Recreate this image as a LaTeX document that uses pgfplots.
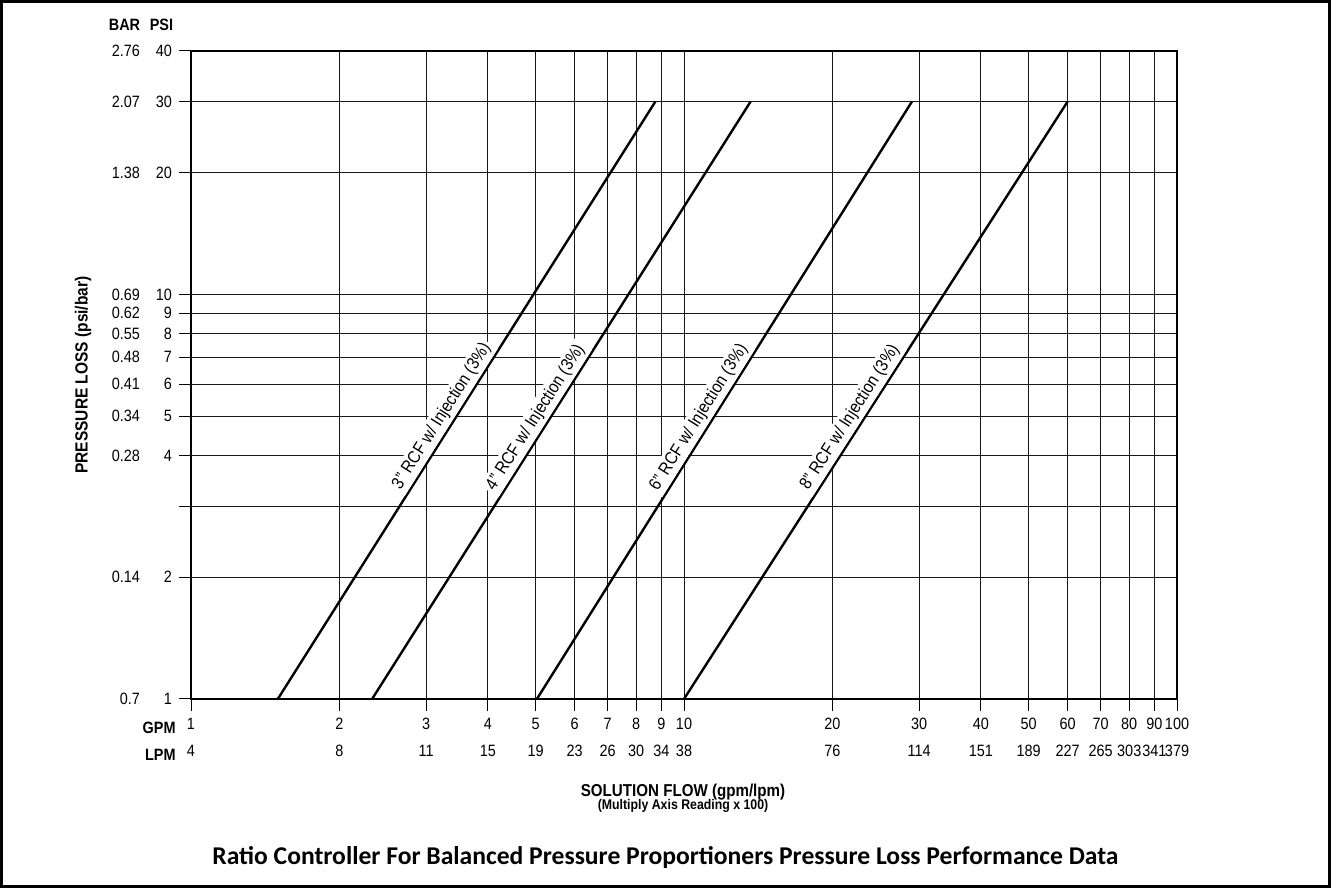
\documentclass[border=0pt]{standalone}
\usepackage{fontspec}
\setmainfont{Liberation Sans}[FakeStretch=0.88]
\newfontfamily\titlefont{Carlito}
\usepackage{pgfplots}
\pgfplotsset{compat=1.18}
\newcommand\yl[2]{\makebox[20pt][r]{#1}\makebox[16pt][r]{#2}}
\begin{document}
\begin{tikzpicture}
\useasboundingbox (0,0) rectangle (665.5pt,444pt);
\draw[line width=1.5pt] (0.75pt,0.75pt) rectangle (664.75pt,443.25pt);
\begin{axis}[
  at={(95.5pt,94.5pt)}, anchor=south west,
  scale only axis, width=493pt, height=324pt,
  xmode=log, ymode=log, xmin=1, xmax=100, ymin=1, ymax=40,
  xtick={1,2,3,4,5,6,7,8,9,10,20,30,40,50,60,70,80,90,100},
  xticklabels={{1\\4},{2\\8},{3\\11},{4\\15},{5\\19},{6\\23},{7\\26},{8\\30},{9\\34},{10\\38},{20\\76},{30\\114},{40\\151},{50\\189},{60\\227},{70\\265},{80\\303},{90\\341},{100\\379}},
  ytick={1,2,3,4,5,6,7,8,9,10,20,30,40},
  yticklabels={\yl{0.7}{1},\yl{0.14}{2},{},\yl{0.28}{4},\yl{0.34}{5},\yl{0.41}{6},\yl{0.48}{7},\yl{0.55}{8},\yl{0.62}{9},\yl{0.69}{10},\yl{1.38}{20},\yl{2.07}{30},\yl{2.76}{40}},
  grid=major, grid style={black!90, line width=0.5pt},
  axis line style={black, line width=0.9pt},
  tick align=outside, xtick pos=bottom, ytick pos=left,
  major tick length=6pt, minor tick length=0pt,
  tick style={black, line width=0.5pt},
  xticklabel style={align=center, font=\fontsize{8.2}{13.5}\selectfont},
  yticklabel style={font=\fontsize{8.2}{10}\selectfont},
  clip=false,
]
\addplot[black, line width=1.2pt] coordinates {(1.5,1) (8.75,30)}
  node[pos=0.46, sloped, above, fill=white, inner sep=1.5pt, font=\fontsize{8.8}{10}\selectfont] {3" RCF w/ Injection (3\%)};
\addplot[black, line width=1.2pt] coordinates {(2.33,1) (13.65,30)}
  node[pos=0.46, sloped, above, fill=white, inner sep=1.5pt, font=\fontsize{8.8}{10}\selectfont] {4" RCF w/ Injection (3\%)};
\addplot[black, line width=1.2pt] coordinates {(5.03,1) (29,30)}
  node[pos=0.46, sloped, above, fill=white, inner sep=1.5pt, font=\fontsize{8.8}{10}\selectfont] {6" RCF w/ Injection (3\%)};
\addplot[black, line width=1.2pt] coordinates {(10,1) (60,30)}
  node[pos=0.46, sloped, above, fill=white, inner sep=1.5pt, font=\fontsize{8.8}{10}\selectfont] {8" RCF w/ Injection (3\%)};
\end{axis}
\node[font=\bfseries\fontsize{8.2}{10}\selectfont] at (62.25pt,431.5pt) {BAR};
\node[font=\bfseries\fontsize{8.2}{10}\selectfont] at (80.75pt,431.5pt) {PSI};
\node[font=\bfseries\fontsize{8.8}{10}\selectfont, rotate=90] at (41.5pt,256.5pt) {PRESSURE LOSS (psi/bar)};
\node[font=\bfseries\fontsize{8.2}{10}\selectfont, anchor=east, inner sep=0pt] at (88pt,80pt) {GPM};
\node[font=\bfseries\fontsize{8.2}{10}\selectfont, anchor=east, inner sep=0pt] at (88pt,66.5pt) {LPM};
\node[font=\bfseries\fontsize{8.6}{10}\selectfont] at (341.5pt,48pt) {SOLUTION FLOW (gpm/lpm)};
\node[font=\bfseries\fontsize{7}{8}\selectfont] at (341.5pt,41pt) {(Multiply Axis Reading x 100)};
\node[font=\titlefont\bfseries\fontsize{12.8}{14}\selectfont] at (332.75pt,15pt) {Ratio Controller For Balanced Pressure Proportioners Pressure Loss Performance Data};
\end{tikzpicture}
\end{document}
